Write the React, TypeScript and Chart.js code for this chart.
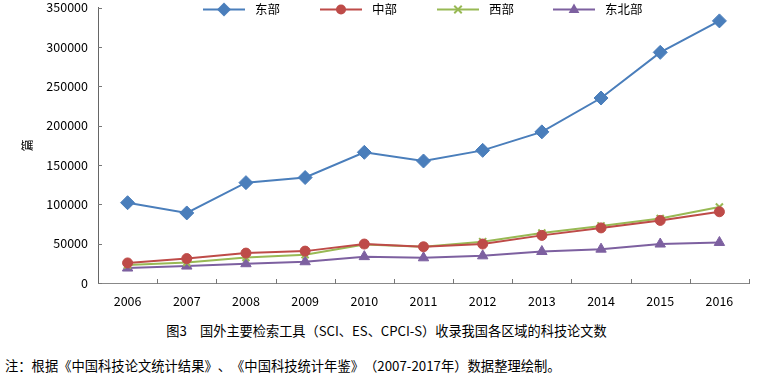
import React, { useEffect, useRef } from "react";
import { Chart, registerables } from "chart.js";

Chart.register(...registerables);

const years = ["2006", "2007", "2008", "2009", "2010", "2011", "2012", "2013", "2014", "2015", "2016"];
const east = [102000, 89000, 127500, 134000, 166000, 155000, 168500, 192000, 235000, 293000, 333000];
const central = [25500, 31000, 38000, 40500, 49500, 46000, 49500, 60500, 70000, 79500, 90500];
const west = [23000, 26000, 32500, 36000, 49000, 46000, 52500, 63500, 72500, 82000, 96500];
const northeast = [19000, 21500, 24500, 27000, 33500, 32000, 34500, 40000, 43000, 49500, 51500];
const seriesNames = ["东部", "中部", "西部", "东北部"];
const yTicks = [0, 50000, 100000, 150000, 200000, 250000, 300000, 350000];
const caption = "图3\u3000国外主要检索工具（SCI、ES、CPCI-S）收录我国各区域的科技论文数";
const note = "注：根据《中国科技论文统计结果》、《中国科技统计年鉴》（2007-2017年）数据整理绘制。";

const FONT = '"Noto Sans CJK SC", "Noto Sans", sans-serif';
const colors = ["#4A7EBB", "#BE4B48", "#98B954", "#7D60A0"];
const styles: any[] = ["rectRot", "circle", "crossRot", "triangle"];
const radii = [7, 5, 5, 6];

function drawMarker(ctx: CanvasRenderingContext2D, style: string, r: number, x: number, y: number, c: string) {
  ctx.save();
  ctx.fillStyle = c;
  ctx.strokeStyle = c;
  ctx.beginPath();
  if (style === "rectRot") {
    ctx.moveTo(x, y - r);
    ctx.lineTo(x + r, y);
    ctx.lineTo(x, y + r);
    ctx.lineTo(x - r, y);
    ctx.closePath();
    ctx.fill();
  } else if (style === "circle") {
    ctx.arc(x, y, r, 0, Math.PI * 2);
    ctx.fill();
  } else if (style === "crossRot") {
    ctx.lineWidth = 2;
    const d = r * 0.75;
    ctx.moveTo(x - d, y - d);
    ctx.lineTo(x + d, y + d);
    ctx.moveTo(x + d, y - d);
    ctx.lineTo(x - d, y + d);
    ctx.stroke();
  } else {
    ctx.moveTo(x, y - r);
    ctx.lineTo(x + r * 0.9, y + r * 0.6);
    ctx.lineTo(x - r * 0.9, y + r * 0.6);
    ctx.closePath();
    ctx.fill();
  }
  ctx.restore();
}

const innerTicks = {
  id: "innerTicks",
  afterDraw(chart: any) {
    const ctx = chart.ctx;
    const a = chart.chartArea;
    const ys = chart.scales.y;
    ctx.save();
    ctx.strokeStyle = "#777";
    ctx.lineWidth = 1;
    yTicks.forEach((v) => {
      const py = Math.round(ys.getPixelForValue(v)) + 0.5;
      ctx.beginPath();
      ctx.moveTo(a.left, py);
      ctx.lineTo(a.left + 4, py);
      ctx.stroke();
    });
    const n = years.length;
    for (let i = 1; i <= n; i++) {
      const px = Math.round(a.left + (i * (a.right - a.left)) / n) + 0.5;
      ctx.beginPath();
      ctx.moveTo(px, a.bottom - 4);
      ctx.lineTo(px, a.bottom + 1);
      ctx.stroke();
    }
    const legendX = [203, 320, 437, 553];
    const ly = a.top + 2;
    seriesNames.forEach((name, i) => {
      const x0 = legendX[i];
      ctx.strokeStyle = colors[i];
      ctx.lineWidth = 2;
      ctx.beginPath();
      ctx.moveTo(x0, ly);
      ctx.lineTo(x0 + 42, ly);
      ctx.stroke();
      drawMarker(ctx, styles[i], radii[i], x0 + 21, ly, colors[i]);
      ctx.fillStyle = "#000";
      ctx.font = `12.5px ${FONT}`;
      ctx.textBaseline = "middle";
      ctx.textAlign = "left";
      ctx.fillText(name, x0 + 52, ly);
    });
    ctx.restore();
  },
};

export default function App() {
  const ref = useRef<HTMLCanvasElement>(null);
  useEffect(() => {
    document.body.style.margin = "0";
    const data = [east, central, west, northeast];
    const chart = new Chart(ref.current!, {
      type: "line",
      data: {
        labels: years,
        datasets: data.map((d, i) => ({
          label: seriesNames[i],
          data: d,
          borderColor: colors[i],
          backgroundColor: colors[i],
          borderWidth: 2,
          pointStyle: styles[i],
          pointRadius: radii[i],
          pointBorderWidth: i === 2 ? 2 : 1,
          pointBorderColor: colors[i],
          pointBackgroundColor: colors[i],
          tension: 0,
        })) as any,
      },
      options: {
        animation: false,
        responsive: false,
        devicePixelRatio: 1,
        layout: { padding: { top: 0, right: 4, left: 0, bottom: 0 } },
        plugins: { legend: { display: false }, tooltip: { enabled: false } },
        scales: {
          x: {
            offset: true,
            grid: { display: false, drawTicks: false },
            border: { display: true, color: "#888", width: 1 },
            ticks: { color: "#000", font: { family: FONT, size: 12.5 }, padding: 11, maxRotation: 0 },
            afterFit: (s: any) => {
              s.height = 27;
            },
          },
          y: {
            min: 0,
            max: 350000,
            grid: { display: false, drawTicks: false },
            border: { display: true, color: "#666", width: 1 },
            ticks: {
              stepSize: 50000,
              color: "#000",
              font: { family: FONT, size: 12.5 },
              padding: 10,
              callback: (v: any) => String(v),
            },
            title: {
              display: true,
              text: "篇",
              color: "#000",
              font: { family: FONT, size: 12 },
              padding: { top: 20, bottom: 0 },
            },
            afterFit: (s: any) => {
              s.width = 98;
            },
          },
        },
      },
      plugins: [innerTicks],
    });
    return () => chart.destroy();
  }, []);
  const spacing: any = { textSpacingTrim: "space-all" };
  return (
    <div style={{ position: "relative", width: 757, height: 378, overflow: "hidden", fontFamily: FONT, color: "#000", ...spacing }}>
      <canvas ref={ref} width={757} height={320} style={{ display: "block", position: "absolute", left: 0, top: -10 }} />
      <div style={{ position: "absolute", top: 321, left: 8, width: 757, textAlign: "center", fontSize: 13.2, lineHeight: "20px", whiteSpace: "nowrap" }}>
        {caption}
      </div>
      <div style={{ position: "absolute", top: 356, left: 5, fontSize: 13.3, lineHeight: "20px", whiteSpace: "nowrap" }}>
        {note}
      </div>
    </div>
  );
}
